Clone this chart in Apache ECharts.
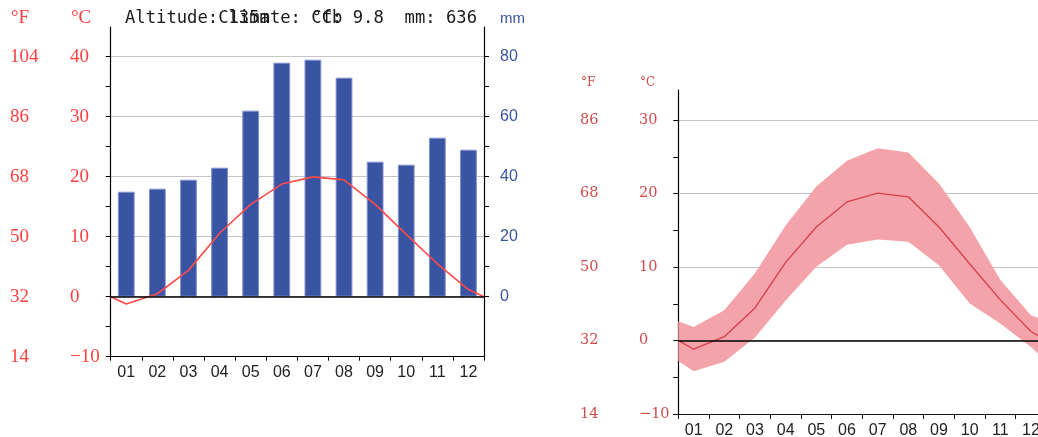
<!DOCTYPE html>
<html>
<head>
<meta charset="utf-8">
<script src="https://cdn.jsdelivr.net/npm/echarts@6/dist/echarts.min.js"></script>
<style>
html,body{margin:0;padding:0;background:#fff;overflow:hidden;}
#c{width:1038px;height:437px;}
</style>
</head>
<body>
<div id="c"></div>
<script>
// ---- data ----
const months = ['01','02','03','04','05','06','07','08','09','10','11','12'];
const precipMm = [35, 36, 39, 43, 62, 78, 79, 73, 45, 44, 53, 49];
const meanTemp = [-1.2, 0.5, 4.4, 10.6, 15.4, 18.8, 20.0, 19.5, 15.4, 10.4, 5.5, 1.2];
const maxTemp  = [1.8, 4.1, 9.1, 15.6, 20.9, 24.4, 26.1, 25.5, 21.3, 15.4, 8.2, 3.4];
const minTemp  = [-4.2, -2.9, 0.4, 5.4, 10.0, 13.0, 13.7, 13.4, 10.2, 5.0, 2.3, -0.9];
// values shown at the year-wrap edges of the plots
const edgeMean = 0.0;
const edgeMax = 2.6;
const edgeMin = -2.8;
const celsiusTicksLeft = ['\u221210','0','10','20','30','40'];
const fahrenheitTicksLeft = ['14','32','50','68','86','104'];
const mmTicks = ['0','20','40','60','80'];
const celsiusTicksRight = ['\u221210','0','10','20','30'];
const fahrenheitTicksRight = ['14','32','50','68','86'];
const headerTexts = ['Altitude: 135m', 'Climate: Cfb', '\u00b0C: 9.8', 'mm: 636'];

// ---- helpers ----
function edgeSeries(vals, edge) {
  const out = [[0, edge]];
  vals.forEach((v, i) => out.push([i + 0.5, v]));
  out.push([12, edge]);
  return out;
}
function tickLabel(arr, min, step) {
  return function (v) {
    const k = Math.round((v - min) / step);
    if (Math.abs(min + k * step - v) > 1e-6) return '';
    return arr[k] !== undefined ? arr[k] : '';
  };
}

const RED_L = '#ff4040';
const RED_R = '#cf4a4a';
const BLUE = '#3a54a4';
const GRID_GRAY = '#c4c4c4';

const gL = { left: 110.7, right: 554 };
const gR = { left: 678.3, right: -8.3 };

const chart = echarts.init(document.getElementById('c'), null, { renderer: 'canvas' });

const base = { containLabel: false, outerBoundsMode: 'none' };
const grids = [
  Object.assign({}, base, gL, { top: 27, bottom: 80.3 }),     // 0 left full (-10..45 C)
  Object.assign({}, base, gL, { top: 56.7, bottom: 80.3 }),   // 1 left ticks (-10..40 C)
  Object.assign({}, base, gL, { top: 56.7, bottom: 140.3 }),  // 2 left mm (0..80)
  Object.assign({}, base, gR, { top: 90, bottom: 23 }),       // 3 right full (-10..34 C)
  Object.assign({}, base, gR, { top: 120, bottom: 23 })       // 4 right ticks (-10..30 C)
];

function hiddenCat(gi) {
  return { type: 'category', gridIndex: gi, data: months, show: false, position: 'bottom', axisLine: { onZero: false } };
}
function hiddenVal(gi) {
  return { type: 'value', gridIndex: gi, min: 0, max: 12, show: false, position: 'bottom', axisLine: { onZero: false } };
}

const xAxes = [
  { // 0 left visible months
    type: 'category', gridIndex: 0, data: months, position: 'bottom',
    axisLine: { show: true, onZero: false, lineStyle: { color: '#000', width: 1.2 } },
    axisTick: { show: true, length: 4, lineStyle: { color: '#000' } },
    axisLabel: { margin: 8, color: '#222', fontFamily: 'Liberation Sans', fontSize: 16 },
    splitLine: { show: false }
  },
  hiddenVal(0),   // 1
  hiddenCat(1),   // 2
  hiddenCat(2),   // 3
  { // 4 right visible months
    type: 'category', gridIndex: 3, data: months, position: 'bottom',
    axisLine: { show: true, onZero: false, lineStyle: { color: '#111', width: 1.2 } },
    axisTick: { show: true, length: 5, lineStyle: { color: '#111' } },
    axisLabel: { margin: 9, color: '#222', fontFamily: 'Liberation Sans', fontSize: 16 },
    splitLine: { show: false }
  },
  hiddenVal(3),   // 5
  hiddenCat(4)    // 6
];

function lineOnlyAxis(gi, pos, min, max) {
  return {
    type: 'value', gridIndex: gi, position: pos, min: min, max: max,
    axisLine: { show: true, onZero: false, lineStyle: { color: '#000', width: 1.2 } },
    axisTick: { show: false }, axisLabel: { show: false }, splitLine: { show: false }
  };
}
function splitLabelAxis(gi, min, max, labels, margin, color, family, size) {
  return {
    type: 'value', gridIndex: gi, position: 'left', min: min, max: max, interval: 10,
    axisLine: { show: false, onZero: false }, axisTick: { show: false },
    axisLabel: { show: true, align: 'left', margin: margin, color: color, fontFamily: family, fontSize: size,
      formatter: tickLabel(labels, min, 10) },
    splitLine: { show: true, lineStyle: { color: GRID_GRAY, width: 1 } }
  };
}
function labelOnlyAxis(gi, pos, min, max, interval, labels, margin, color, family, size) {
  return {
    type: 'value', gridIndex: gi, position: pos, min: min, max: max, interval: interval,
    axisLine: { show: false, onZero: false }, axisTick: { show: false },
    axisLabel: { show: true, align: 'left', margin: margin, color: color, fontFamily: family, fontSize: size,
      formatter: tickLabel(labels, min, interval) },
    splitLine: { show: false }
  };
}
function tickOnlyAxis(gi, pos, min, max, interval, len) {
  return {
    type: 'value', gridIndex: gi, position: pos, min: min, max: max, interval: interval,
    axisLine: { show: false, onZero: false },
    axisTick: { show: true, length: len, lineStyle: { color: '#000', width: 1 } },
    axisLabel: { show: false }, splitLine: { show: false }
  };
}

const yAxes = [
  lineOnlyAxis(0, 'left', -10, 45),                                                   // 0
  lineOnlyAxis(0, 'right', -10, 45),                                                  // 1
  splitLabelAxis(1, -10, 40, celsiusTicksLeft, 40.7, RED_L, 'Liberation Serif', 19),  // 2
  tickOnlyAxis(1, 'left', -10, 40, 5, 5),                                             // 3
  labelOnlyAxis(1, 'left', -10, 40, 10, fahrenheitTicksLeft, 100.7, RED_L, 'Liberation Serif', 19), // 4
  labelOnlyAxis(2, 'right', 0, 80, 20, mmTicks, 16, BLUE, 'Liberation Sans', 16),     // 5
  tickOnlyAxis(2, 'right', 0, 80, 10, 5),                                             // 6
  lineOnlyAxis(3, 'left', -10, 34),                                                   // 7
  splitLabelAxis(4, -10, 30, celsiusTicksRight, 39.3, RED_R, 'DejaVu Serif', 14.5),   // 8
  tickOnlyAxis(4, 'left', -10, 30, 5, 5),                                             // 9
  labelOnlyAxis(4, 'left', -10, 30, 10, fahrenheitTicksRight, 98.3, RED_R, 'DejaVu Serif', 14.5) // 10
];

const zeroLine = {
  silent: true, symbol: ['none', 'none'], label: { show: false },
  lineStyle: { color: '#000', type: 'solid', width: 1.5 },
  data: [{ yAxis: 0 }], animation: false
};

const upperPts = edgeSeries(maxTemp, edgeMax);
const lowerPts = edgeSeries(minTemp, edgeMin);

const series = [
  {
    name: 'precip', type: 'bar', xAxisIndex: 3, yAxisIndex: 5, data: precipMm,
    barWidth: '54%',
    itemStyle: { color: BLUE, borderColor: '#8392cf', borderWidth: 1 }, z: 2
  },
  {
    name: 'tempL', type: 'line', xAxisIndex: 1, yAxisIndex: 0,
    data: edgeSeries(meanTemp, edgeMean), symbol: 'none',
    lineStyle: { color: '#ff4a4a', width: 1.6 }, z: 4,
    markLine: zeroLine
  },
  {
    name: 'band', type: 'custom', xAxisIndex: 5, yAxisIndex: 7, z: 2, silent: true,
    data: [[0, 0]],
    renderItem: function (params, api) {
      const pts = [];
      upperPts.forEach(p => pts.push(api.coord(p)));
      lowerPts.slice().reverse().forEach(p => pts.push(api.coord(p)));
      return { type: 'polygon', shape: { points: pts }, style: { fill: '#f3a3a9' } };
    }
  },
  {
    name: 'tempR', type: 'line', xAxisIndex: 5, yAxisIndex: 7,
    data: edgeSeries(meanTemp, edgeMean), symbol: 'none',
    lineStyle: { color: '#d63f4a', width: 1.3 }, z: 4,
    markLine: zeroLine
  }
];

const graphics = [];
const charW = 0.602 * 17.2;
headerTexts.forEach((t, k) => {
  graphics.push({
    type: 'text', left: 125 + k * 9 * charW, top: 10,
    style: { text: t, fill: '#1a1a1a', font: '17.2px "DejaVu Sans Mono"' }
  });
});
graphics.push({ type: 'text', left: 11, top: 9, style: { text: '\u00b0F', fill: RED_L, font: '19px "Liberation Serif"' } });
graphics.push({ type: 'text', left: 71, top: 9, style: { text: '\u00b0C', fill: RED_L, font: '19px "Liberation Serif"' } });
graphics.push({ type: 'text', left: 500, top: 11, style: { text: 'mm', fill: BLUE, font: '15px "Liberation Sans"' } });
graphics.push({ type: 'text', left: 581, top: 77, style: { text: '\u00b0F', fill: RED_R, font: '12px "DejaVu Serif"' } });
graphics.push({ type: 'text', left: 640, top: 77, style: { text: '\u00b0C', fill: RED_R, font: '12px "DejaVu Serif"' } });

chart.setOption({
  animation: false,
  backgroundColor: '#fff',
  grid: grids,
  xAxis: xAxes,
  yAxis: yAxes,
  series: series,
  graphic: graphics
});
</script>
</body>
</html>
